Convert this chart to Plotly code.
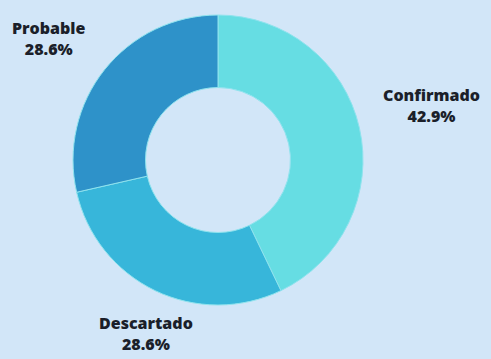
import math
import plotly.graph_objects as go

labels = ["Confirmado", "Descartado", "Probable"]
values = [3, 2, 2]
colors = ["#66DDE3", "#37B6DA", "#2E92C9"]

BG = "#D2E6F8"
W, H = 491, 359
CX, CY, R = 218, 160, 145  # pie centre / radius in pixels

fig = go.Figure(go.Pie(
    labels=labels,
    values=values,
    hole=0.5,
    sort=False,
    direction="clockwise",
    rotation=0,
    marker=dict(colors=colors, line=dict(color="#8FE3EE", width=1)),
    textinfo="none",
    showlegend=False,
    hoverinfo="label+percent",
    domain=dict(x=[(CX - R) / W, (CX + R) / W], y=[1 - (CY + R) / H, 1 - (CY - R) / H]),
))

# outside labels placed at each slice's mid-angle
total = sum(values)
start = 0.0
for lab, v in zip(labels, values):
    mid = (start + v / 2) / total * 2 * math.pi
    start += v
    dx, dy = math.sin(mid), -math.cos(mid)
    r = R * 1.15
    px, py = CX + dx * r, CY + dy * r + (6 if dy < 0 else 0)
    xa = "center" if abs(dx) < 0.5 else ("left" if dx > 0 else "right")
    ya = "bottom" if dy < 0 else "top"
    fig.add_annotation(
        x=px / W, y=1 - py / H, xref="paper", yref="paper",
        text=f"{lab}<br>{v / total * 100:.1f}%",
        showarrow=False, xanchor=xa, yanchor=ya,
        font=dict(family="Open Sans, sans-serif", size=16, color="#1B1F2A", weight=800),
        align="center",
    )

fig.update_layout(
    paper_bgcolor=BG,
    plot_bgcolor=BG,
    margin=dict(l=0, r=0, t=0, b=0),
)
fig.write_html("out.html", config={"responsive": True, "displayModeBar": False},
               default_width="100vw", default_height="100vh")
with open("out.html") as f:
    html = f.read()
html = html.replace("<head>", "<head><style>body{margin:0;overflow:hidden}</style>", 1)
with open("out.html", "w") as f:
    f.write(html)
